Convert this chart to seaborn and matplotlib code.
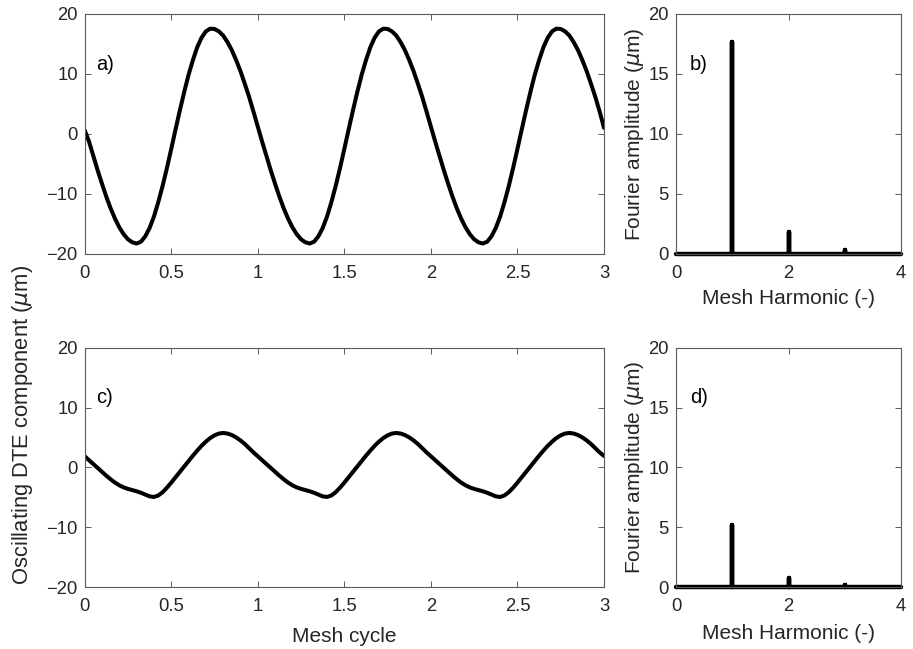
import numpy as np
import pandas as pd
import matplotlib
matplotlib.use("Agg")
import matplotlib.pyplot as plt
import seaborn as sns

# ---------------- data ----------------
mesh_cycle = np.linspace(0, 3, 121)

dte_a = [
    0.6, -1.3, -3.7, -6.1, -8.35, -10.5, -12.45, -14.15, -15.6, -16.75,
    -17.6, -18.1, -18.3, -18.0, -17.1, -15.7, -13.8, -11.4, -8.7, -5.7,
    -2.5, 0.75, 3.95, 7.0, 9.85, 12.3, 14.45, 16.05, 17.1, 17.55,
    17.5, 17.1, 16.4, 15.3, 13.95, 12.3, 10.45, 8.35, 6.15, 3.7,
    1.2, -1.3, -3.7, -6.1, -8.35, -10.5, -12.45, -14.15, -15.6, -16.75,
    -17.6, -18.1, -18.3, -18.0, -17.1, -15.7, -13.8, -11.4, -8.7, -5.7,
    -2.5, 0.75, 3.95, 7.0, 9.85, 12.3, 14.45, 16.05, 17.1, 17.55,
    17.5, 17.1, 16.4, 15.3, 13.95, 12.3, 10.45, 8.35, 6.15, 3.7,
    1.2, -1.3, -3.7, -6.1, -8.35, -10.5, -12.45, -14.15, -15.6, -16.75,
    -17.6, -18.1, -18.3, -18.0, -17.1, -15.7, -13.8, -11.4, -8.7, -5.7,
    -2.5, 0.75, 3.95, 7.0, 9.85, 12.3, 14.45, 16.05, 17.1, 17.55,
    17.5, 17.1, 16.4, 15.3, 13.95, 12.3, 10.45, 8.35, 6.15, 3.7,
    1.0,
]

dte_c = [
    1.85, 1.2, 0.55, -0.1, -0.75, -1.4, -2.0, -2.55, -3.0, -3.35,
    -3.6, -3.8, -4.0, -4.25, -4.55, -4.85, -4.95, -4.7, -4.15, -3.4,
    -2.55, -1.65, -0.75, 0.15, 1.05, 1.95, 2.8, 3.6, 4.3, 4.9,
    5.35, 5.65, 5.75, 5.65, 5.4, 5.0, 4.5, 3.9, 3.2, 2.5,
    1.85, 1.2, 0.55, -0.1, -0.75, -1.4, -2.0, -2.55, -3.0, -3.35,
    -3.6, -3.8, -4.0, -4.25, -4.55, -4.85, -4.95, -4.7, -4.15, -3.4,
    -2.55, -1.65, -0.75, 0.15, 1.05, 1.95, 2.8, 3.6, 4.3, 4.9,
    5.35, 5.65, 5.75, 5.65, 5.4, 5.0, 4.5, 3.9, 3.2, 2.5,
    1.85, 1.2, 0.55, -0.1, -0.75, -1.4, -2.0, -2.55, -3.0, -3.35,
    -3.6, -3.8, -4.0, -4.25, -4.55, -4.85, -4.95, -4.7, -4.15, -3.4,
    -2.55, -1.65, -0.75, 0.15, 1.05, 1.95, 2.8, 3.6, 4.3, 4.9,
    5.35, 5.65, 5.75, 5.65, 5.4, 5.0, 4.5, 3.9, 3.2, 2.5,
    1.9,
]

harmonic = [0, 1, 1, 1, 2, 2, 2, 3, 3, 3, 4]
amp_b = [0, 0, 17.7, 0, 0, 1.85, 0, 0, 0.3, 0, 0]
amp_d = [0, 0, 5.2, 0, 0, 0.75, 0, 0, 0.2, 0, 0]

time_xticks = [0, 0.5, 1, 1.5, 2, 2.5, 3]
time_xticklabels = ["0", "0.5", "1", "1.5", "2", "2.5", "3"]
time_yticks = [-20, -10, 0, 10, 20]
harm_xticks = [0, 2, 4]
harm_yticks = [0, 5, 10, 15, 20]

# ---------------- style ----------------
sns.set_theme(style="ticks")
plt.rcParams["font.family"] = ["Liberation Sans", "DejaVu Sans"]
plt.rcParams["mathtext.fontset"] = "dejavusans"

AX_COL = "#262626"
TICK_FS = 13.3
LAB_FS = 15

W, H = 913, 649
fig = plt.figure(figsize=(W / 100, H / 100), dpi=100)


def add_ax(x0, y0, x1, y1):
    return fig.add_axes([x0 / W, 1 - y1 / H, (x1 - x0) / W, (y1 - y0) / H])


ax_a = add_ax(84.7, 14, 604, 253.7)
ax_b = add_ax(676, 14, 901, 253.7)
ax_c = add_ax(84.7, 347.7, 604, 587)
ax_d = add_ax(676, 347.7, 901, 587)

LW = 2.9
sns.lineplot(x=mesh_cycle, y=dte_a, ax=ax_a, color="black", lw=LW)
sns.lineplot(x=mesh_cycle, y=dte_c, ax=ax_c, color="black", lw=LW)
sns.lineplot(x=harmonic, y=amp_b, ax=ax_b, color="black", lw=3.2,
             estimator=None, sort=False, clip_on=False)
sns.lineplot(x=harmonic, y=amp_d, ax=ax_d, color="black", lw=3.2,
             estimator=None, sort=False, clip_on=False)

for ax in (ax_a, ax_c):
    ax.set_xlim(0, 3)
    ax.set_ylim(-20, 20)
    ax.set_xticks(time_xticks)
    ax.set_xticklabels(time_xticklabels)
    ax.set_yticks(time_yticks)
for ax, pad in ((ax_b, 5), (ax_d, 6.5)):
    ax.set_xlim(0, 4)
    ax.set_ylim(0, 20)
    ax.set_xticks(harm_xticks)
    ax.set_yticks(harm_yticks)
    ax.set_ylabel(r"Fourier amplitude ($\mu$m)", fontsize=LAB_FS,
                  color=AX_COL, labelpad=2)
    ax.set_xlabel("Mesh Harmonic (-)", fontsize=LAB_FS, color=AX_COL,
                  labelpad=pad)

for ax in (ax_a, ax_b, ax_c, ax_d):
    for s in ax.spines.values():
        s.set_visible(True)
        s.set_color("#5a5a5a")
        s.set_linewidth(0.8)
    ax.tick_params(axis="both", which="major", direction="in", length=4.5,
                   width=0.7, color="#5a5a5a", labelsize=TICK_FS,
                   labelcolor=AX_COL, top=True, right=True)
    ax.tick_params(axis="x", pad=8)
    ax.tick_params(axis="y", pad=5)
    ax.set_facecolor("white")

ax_a.set_xlabel("")
ax_a.set_ylabel("")
ax_c.set_ylabel("")
ax_c.set_xlabel("Mesh cycle", fontsize=LAB_FS, color=AX_COL, labelpad=8.5)

fig.text(23 / W, 1 - 425 / H, r"Oscillating DTE component ($\mu$m)",
         rotation=90, ha="center", va="center", fontsize=15.8, color=AX_COL)

for ax, lab, xf in ((ax_a, "a)", 0.022), (ax_b, "b)", 0.062),
                    (ax_c, "c)", 0.022), (ax_d, "d)", 0.062)):
    ax.text(xf, 0.79, lab, transform=ax.transAxes, ha="left", va="center",
            fontsize=14.5, color="black")

fig.savefig("out.png", dpi=100, facecolor="white")
